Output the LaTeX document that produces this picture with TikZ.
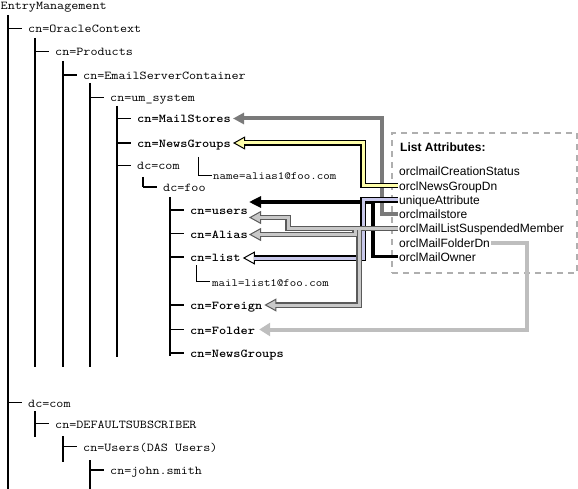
\documentclass[tikz,border=0pt]{standalone}
\usepackage{fontspec}
\setmainfont{Liberation Sans}
\usetikzlibrary{arrows.meta}
\newcommand{\mtx}[1]{\scalebox{1.143}[1]{#1}}
\definecolor{yel}{RGB}{255,255,170}
\definecolor{lav}{RGB}{200,200,235}
\definecolor{midgray}{RGB}{122,122,122}
\definecolor{lightg}{RGB}{190,190,190}
\definecolor{dgray}{RGB}{90,90,90}
\definecolor{igray}{RGB}{200,200,200}
\definecolor{boxg}{RGB}{175,175,175}
\begin{document}
\begin{tikzpicture}[x=1pt,y=-1pt,
  tn/.style={font=\ttfamily\fontsize{12}{14}\selectfont, anchor=west, inner sep=0pt, text height=9pt, text depth=0pt},
  tb/.style={tn, font=\ttfamily\bfseries\fontsize{12}{14}\selectfont},
  ts/.style={tn, font=\ttfamily\fontsize{11}{13}\selectfont},
  attrtxt/.style={font=\fontsize{12}{14}\selectfont, anchor=west, inner sep=0pt, text height=9pt, text depth=0pt},
  tree/.style={line width=1.3pt, black},
  thinl/.style={line width=1pt, black},
  msarrow/.style={line width=4pt, midgray, -{Triangle[length=11pt,width=11pt]}},
  blkarrow/.style={line width=3.5pt, black, -{Triangle[length=12pt,width=11pt]}},
  fdarrow/.style={line width=4pt, lightg, -{Triangle[length=11pt,width=13pt]}},
  yout/.style={line width=5.5pt, black, -{Triangle[length=12pt,width=13pt,line width=1pt,fill=yel]}},
  yin/.style={line width=3pt, yel, shorten >=11pt},
  lout/.style={line width=5.5pt, black, -{Triangle[length=12pt,width=13pt,line width=1pt,fill=white]}},
  lin/.style={line width=3pt, lav, shorten >=11pt},
  gout/.style={line width=5.5pt, dgray, -{Triangle[length=12pt,width=13pt,line width=1pt,fill=igray]}},
  gin/.style={line width=3pt, igray, shorten >=11pt},
  dashbox/.style={draw=boxg, line width=2.2pt, dash pattern=on 6pt off 5pt, inner sep=0pt}
]
\useasboundingbox (0,0) rectangle (578,489);

% tree nodes
\node[tn] (em) at (0.5,5.5) {\mtx{EntryManagement}};
\node[tn] (oc) at (28,28.5) {\mtx{cn=OracleContext}};
\node[tn] (pr) at (55,51.5) {\mtx{cn=Products}};
\node[tn] (esc) at (83,75) {\mtx{cn=EmailServerContainer}};
\node[tn] (ums) at (110,97.5) {\mtx{cn=um\_system}};
\node[tb] (ms) at (137,118.5) {\mtx{cn=MailStores}};
\node[tb] (ng) at (137,143) {\mtx{cn=NewsGroups}};
\node[tn] (dc) at (137,165.5) {\mtx{dc=com}};
\node[ts] (alias1) at (213,175.5) {\mtx{name=alias1@foo.com}};
\node[tn] (foo) at (163,187) {\mtx{dc=foo}};
\node[tb] (users) at (190,210) {\mtx{cn=users}};
\node[tb] (alias) at (190,233.5) {\mtx{cn=Alias}};
\node[tb] (list) at (190,257) {\mtx{cn=list}};
\node[ts] (mail) at (212,281.5) {\mtx{mail=list1@foo.com}};
\node[tb] (foreign) at (190,305) {\mtx{cn=Foreign}};
\node[tb] (folder) at (190,329.5) {\mtx{cn=Folder}};
\node[tb] (ng2) at (190,353) {\mtx{cn=NewsGroups}};
\node[tn] (dc2) at (28,402.5) {\mtx{dc=com}};
\node[tn] (ds) at (55,423.5) {\mtx{cn=DEFAULTSUBSCRIBER}};
\node[tn] (du) at (83,446.5) {\mtx{cn=Users(DAS Users)}};
\node[tn] (js) at (110,470) {\mtx{cn=john.smith}};

% vertical tree lines
\draw[tree] (8,15) -- (8,489);
\draw[tree] (35,38) -- (35,367);
\draw[tree] (63,61) -- (63,367);
\draw[tree] (90,83) -- (90,367);
\draw[tree] (117,106) -- (117,357);
\draw[tree] (143,177) -- (143,187);
\draw[tree] (170,197) -- (170,356);
\draw[tree] (35,411) -- (35,437);
\draw[tree] (63,436) -- (63,462);
\draw[tree] (90,460) -- (90,489);

% ticks
\foreach \n in {oc,pr,esc,ums,ms,ng,dc,foo,users,alias,list,foreign,folder,ng2,dc2,ds,du,js}
  \draw[tree] ([xshift=-20pt]\n.west) -- ([xshift=-6pt]\n.west);
\draw[thinl] ([xshift=61pt,yshift=-14pt]ng.west) |- ([xshift=-1pt]alias1.west);
\draw[thinl] ([xshift=6pt,yshift=-8pt]list.west) |- ([xshift=-2pt]mail.west);

% attribute box
\node[dashbox, minimum width=185pt, minimum height=140pt, anchor=north west] (box) at (391,132) {};
\node[attrtxt, font=\bfseries\fontsize{12}{14}\selectfont] (lat) at (400,147.5) {List Attributes:};
\node[attrtxt] (cs) at (399,171.5) {orclmailCreationStatus};
\node[attrtxt] (ngd) at (399,185.7) {orclNewsGroupDn};
\node[attrtxt] (uniq) at (399,199.9) {uniqueAttribute};
\node[attrtxt] (mst) at (399,214.1) {orclmailstore};
\node[attrtxt] (susp) at (399,228.3) {orclMailListSuspendedMember};
\node[attrtxt] (fdn) at (399,242.5) {orclMailFolderDn};
\node[attrtxt] (own) at (399,256.7) {orclMailOwner};

% connectors
\draw[msarrow] ([xshift=-1pt]mst.west) -- ++(-16,0) |- ([xshift=2pt]ms.east);
\draw[fdarrow] ([xshift=1pt]fdn.east) -- ++(36,0) |- ([xshift=4pt]folder.east);
\draw[blkarrow] ([xshift=-1pt]own.west) -- ++(-25,0) |- ([xshift=1pt,yshift=8pt]users.east);

\draw[lout] ([xshift=-1pt]uniq.west) -- ++(-35,0) |- ([xshift=2pt,yshift=-1pt]list.east);
\draw[lin] ([xshift=-1pt]uniq.west) -- ++(-35,0) |- ([xshift=2pt,yshift=-1pt]list.east);

\draw[gout] ([xshift=-1pt]susp.west) -- ++(-110,0) |- ([xshift=1pt,yshift=-7.5pt]users.east);
\draw[gout] ([xshift=-44pt]susp.west) |- ([xshift=1pt,yshift=-1pt]alias.east);
\draw[gout] ([xshift=-40pt]susp.west) |- ([xshift=2pt]foreign.east);
\draw[gin] ([xshift=-1pt]susp.west) -- ++(-110,0) |- ([xshift=1pt,yshift=-7.5pt]users.east);
\draw[gin] ([xshift=-44pt]susp.west) |- ([xshift=1pt,yshift=-1pt]alias.east);
\draw[gin] ([xshift=-40pt]susp.west) |- ([xshift=2pt]foreign.east);

\draw[yout] ([xshift=-1pt]ngd.west) -- ++(-35,0) |- ([xshift=2pt]ng.east);
\draw[yin] ([xshift=-1pt]ngd.west) -- ++(-35,0) |- ([xshift=2pt]ng.east);
\end{tikzpicture}
\end{document}
